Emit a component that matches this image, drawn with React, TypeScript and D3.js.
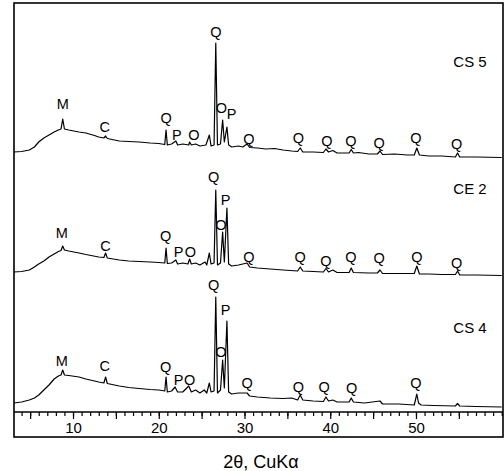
import { useEffect, useRef } from 'react';
import * as d3 from 'd3';

// 2theta (deg) / relative intensity
const cs5Theta = [3.1, 4.0, 4.9, 5.5, 6.0, 6.6, 7.2, 7.8, 8.3, 8.6, 8.8, 9.0, 9.5, 10.7, 11.5, 12.5, 13.0, 13.6, 13.8, 14.0, 15.4, 16.5, 17.7, 19.0, 20.0, 20.7, 20.85, 21.0, 21.5, 22.0, 22.2, 22.8, 23.5, 23.6, 23.8, 24.3, 24.8, 25.5, 25.9, 26.1, 26.45, 26.65, 26.85, 27.2, 27.45, 27.65, 27.95, 28.15, 28.5, 29.3, 29.8, 30.3, 30.6, 31.5, 32.5, 33.5, 34.5, 35.5, 36.2, 36.5, 36.8, 38.0, 39.2, 39.5, 39.8, 40.3, 40.8, 42.2, 42.45, 42.7, 43.3, 44.5, 45.5, 45.8, 46.1, 47.5, 49.0, 49.8, 50.1, 50.4, 51.5, 53.0, 54.6, 54.85, 55.1, 57.0, 60.0];
const cs5Counts = [6, 6.5, 8, 11, 16, 20, 23, 26, 28, 29, 39, 29, 28, 26, 25, 22.5, 21, 20, 22, 19.5, 17, 16.5, 16, 15, 14.5, 13.5, 28, 13, 14, 17, 13, 14, 13, 16, 13, 14, 12, 13, 23, 12, 13, 115, 13, 14, 38, 16, 31, 13, 11, 12, 11, 14, 10.5, 10, 9, 9.5, 8, 7, 6.5, 10, 6, 6, 5.5, 9, 6, 7.5, 5, 5, 8.5, 5, 5.5, 4, 4, 7, 3.5, 4, 3, 3, 10, 3, 2, 2, 1, 5, 1, 1, 0.5];

const ce2Theta = [3.1, 4.0, 4.9, 5.5, 6.0, 6.6, 7.2, 7.8, 8.3, 8.6, 8.8, 9.0, 9.5, 10.7, 11.5, 13.0, 13.6, 13.8, 14.0, 15.4, 16.5, 17.7, 19.0, 20.0, 20.7, 20.85, 21.0, 21.5, 22.0, 22.2, 22.8, 23.4, 23.6, 23.8, 24.3, 24.8, 25.4, 25.6, 25.9, 26.1, 26.45, 26.65, 26.85, 27.2, 27.45, 27.65, 27.95, 28.15, 28.5, 29.3, 30.3, 30.6, 31.5, 33.0, 34.5, 36.2, 36.5, 36.8, 38.0, 39.2, 39.5, 39.8, 40.3, 40.8, 42.2, 42.45, 42.7, 44.5, 45.5, 45.8, 46.1, 47.5, 49.8, 50.1, 50.4, 51.5, 53.0, 54.6, 54.85, 55.1, 57.0, 60.0];
const ce2Counts = [11, 11.5, 13, 16, 19, 22, 26, 29, 31.5, 32.5, 37, 33, 32, 30, 28.5, 26, 25.5, 30, 25, 23, 22, 21.5, 21, 20.5, 20, 35, 19.5, 20, 23, 19, 20, 19, 24, 19, 20, 18, 21, 18, 30, 19, 20, 93, 18, 20, 51, 21, 75, 19, 17, 18, 20, 16, 15, 14, 13, 12, 16, 12, 11.5, 11, 14.5, 11, 13, 10.5, 10.5, 15, 10.5, 10, 10, 13, 9.5, 9.5, 9.5, 17, 9, 9, 8.5, 8.5, 12, 8, 8, 7.5];

const cs4Theta = [3.1, 4.0, 4.9, 5.5, 6.0, 6.6, 7.2, 7.8, 8.3, 8.6, 8.8, 9.0, 9.5, 10.7, 11.5, 13.0, 13.6, 13.8, 14.0, 15.4, 16.5, 17.7, 19.0, 20.0, 20.7, 20.85, 21.0, 21.5, 21.9, 22.2, 22.8, 23.5, 23.8, 24.3, 24.8, 25.3, 25.6, 25.9, 26.1, 26.45, 26.65, 26.85, 27.2, 27.45, 27.65, 27.95, 28.15, 28.5, 29.3, 30.3, 30.6, 31.5, 33.0, 34.5, 35.5, 36.2, 36.5, 36.8, 38.0, 39.2, 39.5, 39.8, 40.3, 40.8, 42.2, 42.45, 42.7, 44.0, 45.8, 46.1, 48.0, 49.8, 50.1, 50.3, 50.6, 52.0, 54.6, 54.85, 55.1, 57.0, 60.0];
const cs4Counts = [10, 11, 13, 15, 18, 23, 28, 34, 37, 38, 43, 38, 37.5, 36, 34, 31, 30, 36, 29.5, 27, 25.5, 24.5, 23.5, 23, 22, 36, 21, 22, 26, 21, 21, 27, 21, 23, 20, 23, 20, 30, 21, 22, 116, 20, 23, 53, 25, 92, 21, 19, 20, 20, 17, 16, 15, 14.5, 15, 13, 18, 13, 12, 11.5, 16, 12, 13, 11, 11, 15, 11, 10, 12, 9, 9, 8, 19, 10, 8, 7.5, 7, 9.5, 7, 6.5, 6];

// peak assignments: position, phase letter, label height
const cs5PeakTheta = [8.8, 13.7, 20.85, 22.1, 24.1, 26.65, 27.3, 28.5, 30.5, 36.3, 39.6, 42.4, 45.7, 50.0, 54.75];
const cs5PeakText = ['M', 'C', 'Q', 'P', 'O', 'Q', 'O', 'P', 'Q', 'Q', 'Q', 'Q', 'Q', 'Q', 'Q'];
const cs5PeakLevel = [54, 31, 40, 23, 23, 126, 50, 44, 19, 20, 17, 17, 15, 20, 14];

const ce2PeakTheta = [8.7, 13.8, 20.8, 22.3, 23.7, 26.4, 27.25, 27.8, 30.5, 36.5, 39.5, 42.4, 45.7, 50.1, 54.75];
const ce2PeakText = ['M', 'C', 'Q', 'P', 'O', 'Q', 'O', 'P', 'Q', 'Q', 'Q', 'Q', 'Q', 'Q', 'Q'];
const ce2PeakLevel = [50, 37, 47, 31, 31, 106, 58, 83, 26, 26, 22, 26, 25, 26, 20];

const cs4PeakTheta = [8.7, 13.7, 20.8, 22.3, 23.6, 26.4, 27.25, 27.8, 30.3, 36.3, 39.3, 42.5, 50.0];
const cs4PeakText = ['M', 'C', 'Q', 'P', 'O', 'Q', 'O', 'P', 'Q', 'Q', 'Q', 'Q', 'Q'];
const cs4PeakLevel = [52, 47, 46, 33, 33, 128, 61, 103, 30, 26, 26, 25, 30];

const sampleNames = ['CS 5', 'CE 2', 'CS 4'];
const sampleOffsets = [255, 130, 0];
const sampleLabelLevel = [97, 95, 86];

const xTicksMajor = [5, 10, 15, 20, 25, 30, 35, 40, 45, 50, 55];

export default function App() {
  const svgRef = useRef(null);
  const width = 504;
  const height = 471;

  useEffect(() => {
    const svg = d3.select(svgRef.current);
    svg.selectAll('*').remove();

    const x = d3.scaleLinear().domain([3, 60.15]).range([13, 503]);
    const y = d3.scaleLinear().domain([0, 410]).range([413, 3]);
    const font = 'Liberation Sans, Arial, sans-serif';

    const traces = [
      { theta: cs5Theta, counts: cs5Counts, pt: cs5PeakTheta, ptx: cs5PeakText, pl: cs5PeakLevel },
      { theta: ce2Theta, counts: ce2Counts, pt: ce2PeakTheta, ptx: ce2PeakText, pl: ce2PeakLevel },
      { theta: cs4Theta, counts: cs4Counts, pt: cs4PeakTheta, ptx: cs4PeakText, pl: cs4PeakLevel },
    ];

    const line = d3.line().x(d => x(d[0])).y(d => y(d[1]));

    traces.forEach((t, i) => {
      const off = sampleOffsets[i];
      const pts = t.theta.map((th, j) => [th, t.counts[j] + off]);
      svg.append('path')
        .attr('d', line(pts))
        .attr('fill', 'none')
        .attr('stroke', '#000')
        .attr('stroke-width', 1.2)
        .attr('stroke-linejoin', 'round');

      svg.append('g').selectAll('text')
        .data(t.pt)
        .enter()
        .append('text')
        .attr('x', d => x(d))
        .attr('y', (d, j) => y(t.pl[j] + off))
        .attr('text-anchor', 'middle')
        .attr('dominant-baseline', 'central')
        .attr('font-family', font)
        .attr('font-size', 14.5)
        .text((d, j) => t.ptx[j]);

      svg.append('text')
        .attr('x', x(56.3))
        .attr('y', y(sampleLabelLevel[i] + off))
        .attr('text-anchor', 'middle')
        .attr('dominant-baseline', 'central')
        .attr('font-family', font)
        .attr('font-size', 15)
        .text(sampleNames[i]);
    });

    // x axis: minor every degree, major every 5
    const axisY = 412;
    svg.append('g')
      .attr('transform', `translate(0,${axisY})`)
      .call(d3.axisBottom(x).tickValues(d3.range(4, 61)).tickSize(4).tickFormat(() => ''))
      .call(g => g.select('.domain').remove())
      .selectAll('line').attr('stroke-width', 1.2);

    const major = svg.append('g')
      .attr('transform', `translate(0,${axisY})`)
      .call(d3.axisBottom(x).tickValues(xTicksMajor).tickSize(7).tickPadding(3)
        .tickFormat(d => (d % 10 === 0 ? String(d) : '')));
    major.select('.domain').remove();
    major.selectAll('line').attr('stroke-width', 1.2);
    major.selectAll('text')
      .attr('font-family', font)
      .attr('font-size', 15)
      .attr('fill', '#000');

    svg.append('line')
      .attr('x1', 14).attr('x2', 503)
      .attr('y1', axisY).attr('y2', axisY)
      .attr('stroke', '#000').attr('stroke-width', 1.4);

    // frame
    svg.append('rect')
      .attr('x', 14).attr('y', 3)
      .attr('width', 489).attr('height', 434)
      .attr('fill', 'none')
      .attr('stroke', '#000')
      .attr('stroke-width', 1.6);

    svg.append('text')
      .attr('x', 261)
      .attr('y', 462)
      .attr('text-anchor', 'middle')
      .attr('dominant-baseline', 'central')
      .attr('font-family', font)
      .attr('font-size', 18)
      .text('2θ, CuKα');
  }, []);

  return (
    <svg
      ref={svgRef}
      width={width}
      height={height}
      style={{ position: 'absolute', left: 0, top: 0, background: '#fff' }}
    />
  );
}
